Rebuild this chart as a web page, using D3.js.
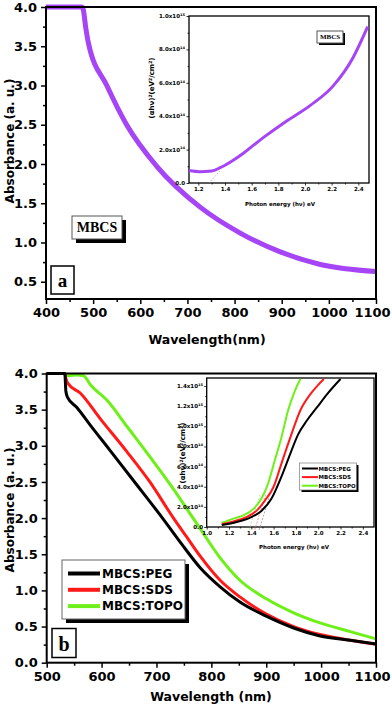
<!DOCTYPE html>
<html>
<head>
<meta charset="utf-8">
<script src="https://cdn.jsdelivr.net/npm/d3@7"></script>
<style>
body { margin: 0; background: #fff; }
svg text { font-family: "DejaVu Sans", sans-serif; font-weight: bold; }
</style>
</head>
<body>
<div id="chart"></div>
<script>
// ---- data : panel (a) MBCS ----
let wlA = [400, 476, 479, 484, 490, 529, 571, 635, 727, 812, 897, 982, 1100];
let absA = [4.0, 4.0, 3.97, 3.75, 3.54, 3.0, 2.5, 1.97, 1.45, 1.12, 0.88, 0.72, 0.63];
// inset (a) tauc plot, (ahv)^2 in units of 10^15
let evA = [1.13, 1.21, 1.30, 1.36, 1.45, 1.54, 1.62, 1.71, 1.86, 2.04, 2.21, 2.36, 2.47];
let tauA = [0.075, 0.068, 0.072, 0.09, 0.13, 0.18, 0.23, 0.285, 0.37, 0.465, 0.58, 0.75, 0.936];

// ---- data : panel (b) ----
let seriesNames = ["MBCS:PEG", "MBCS:SDS", "MBCS:TOPO"];
let seriesColors = ["#000000", "#ff1a1a", "#6cf018"];
let wlPEG = [500, 533, 535, 538, 555, 579, 615, 658, 713, 745, 780, 816, 852, 901, 950, 998, 1053, 1100];
let absPEG = [4.0, 4.0, 3.75, 3.67, 3.53, 3.29, 2.94, 2.52, 1.98, 1.65, 1.31, 1.05, 0.84, 0.64, 0.48, 0.37, 0.31, 0.26];
let wlSDS = [500, 533, 535, 539, 561, 597, 646, 688, 731, 755, 780, 816, 852, 901, 950, 998, 1053, 1100];
let absSDS = [4.0, 4.0, 3.93, 3.86, 3.73, 3.38, 2.92, 2.50, 2.00, 1.74, 1.47, 1.14, 0.91, 0.67, 0.50, 0.39, 0.31, 0.255];
let wlTOPO = [500, 530, 540, 555, 567, 580, 610, 647, 683, 731, 763, 780, 816, 852, 901, 950, 998, 1053, 1100];
let absTOPO = [4.0, 4.0, 3.97, 3.98, 3.97, 3.84, 3.63, 3.26, 2.90, 2.40, 2.04, 1.85, 1.45, 1.14, 0.88, 0.69, 0.55, 0.43, 0.33];
// inset (b), (ahv)^2 in units of 10^15
let evPEG = [1.135, 1.27, 1.39, 1.49, 1.58, 1.67, 1.75, 1.82, 1.90, 1.99, 2.08, 2.20];
let tauPEG = [0.02, 0.05, 0.093, 0.16, 0.28, 0.50, 0.73, 0.92, 1.06, 1.19, 1.32, 1.47];
let evSDS = [1.135, 1.24, 1.36, 1.45, 1.52, 1.60, 1.67, 1.75, 1.84, 1.93, 1.99, 2.05];
let tauSDS = [0.027, 0.056, 0.10, 0.165, 0.26, 0.40, 0.63, 0.89, 1.16, 1.32, 1.40, 1.47];
let evTOPO = [1.135, 1.24, 1.33, 1.42, 1.49, 1.55, 1.61, 1.67, 1.73, 1.79, 1.84];
let tauTOPO = [0.04, 0.083, 0.116, 0.18, 0.28, 0.43, 0.66, 0.89, 1.16, 1.35, 1.47];
let gapB = [1.47, 1.43, 1.38];   // tangent intercepts (eV)

// ---- tick labels ----
let xTicksA = [400, 500, 600, 700, 800, 900, 1000, 1100];
let yTicksA = [0.5, 1.0, 1.5, 2.0, 2.5, 3.0, 3.5, 4.0];
let xTicksB = [500, 600, 700, 800, 900, 1000, 1100];
let yTicksB = [0.0, 0.5, 1.0, 1.5, 2.0, 2.5, 3.0, 3.5, 4.0];
let evTicksA = [1.2, 1.4, 1.6, 1.8, 2.0, 2.2, 2.4];
let tauTicksA = [0, 0.2, 0.4, 0.6, 0.8, 1.0];
let evTicksB = [1.0, 1.2, 1.4, 1.6, 1.8, 2.0, 2.2, 2.4];
let tauTicksB = [0, 0.2, 0.4, 0.6, 0.8, 1.0, 1.2, 1.4];

let svg = d3.select("#chart")
  .append("svg")
  .attr("width", 392)
  .attr("height", 707);

// draws bottom+left axes with minor ticks, plus top/right frame
function drawFrame(x, y, xTicks, xMinor, yTicks, yMinor, o) {
  let g = svg.append("g");
  let x0 = x.range()[0], x1 = x.range()[1];
  let y0 = y.range()[0], y1 = y.range()[1];

  let xa = g.append("g").attr("transform", "translate(0," + y0 + ")")
    .call(d3.axisBottom(x).tickValues(xMinor).tickSize(o.minor).tickFormat("").tickSizeOuter(0));
  let xm = xa.append("g").call(d3.axisBottom(x).tickValues(xTicks).tickSize(o.major).tickPadding(o.pad)
    .tickFormat(o.fx).tickSizeOuter(0));
  let ya = g.append("g").attr("transform", "translate(" + x0 + ",0)")
    .call(d3.axisLeft(y).tickValues(yMinor).tickSize(o.minor).tickFormat("").tickSizeOuter(0));
  ya.append("g").call(d3.axisLeft(y).tickValues(yTicks).tickSize(o.major).tickPadding(o.pad)
    .tickFormat(o.fy || "").tickSizeOuter(0));

  g.selectAll(".domain").remove();
  g.selectAll(".tick line").attr("stroke", "#000").attr("stroke-width", o.tw);
  g.selectAll("text").attr("font-family", "DejaVu Sans").attr("font-weight", "bold")
    .attr("font-size", o.fs).attr("fill", "#000");
  if (o.lastDx) {
    xm.selectAll(".tick text").filter((d, i, n) => i === n.length - 1).attr("dx", o.lastDx);
  }

  g.append("rect")
    .attr("x", x0).attr("y", y1)
    .attr("width", x1 - x0).attr("height", y0 - y1)
    .attr("fill", "none").attr("stroke", "#000").attr("stroke-width", o.lw);
  return g;
}

function sciLabel(g, y, vals, xr) {
  vals.forEach(function (v) {
    let t = g.append("text")
      .attr("x", xr).attr("y", y(v) + 2)
      .attr("text-anchor", "end")
      .attr("font-size", "5.5px");
    if (v === 0) { t.text("0.0"); return; }
    let val = v * 1e15;
    let e = Math.floor(Math.log10(val) + 1e-9);
    let m = val / Math.pow(10, e);
    t.append("tspan").text(m.toFixed(1) + "x10");
    t.append("tspan").attr("dy", -2.2).attr("font-size", "3.6px").text(e);
  });
}

function tauTitle(g, cx, cy) {
  let t = g.append("text")
    .attr("transform", "translate(" + cx + "," + cy + ") rotate(-90)")
    .attr("text-anchor", "middle")
    .attr("font-size", "7px");
  t.append("tspan").text("(αhν)");
  t.append("tspan").attr("dy", -2.5).attr("font-size", "4.5px").text("2");
  t.append("tspan").attr("dy", 2.5).text("(eV");
  t.append("tspan").attr("dy", -2.5).attr("font-size", "4.5px").text("2");
  t.append("tspan").attr("dy", 2.5).text("/cm");
  t.append("tspan").attr("dy", -2.5).attr("font-size", "4.5px").text("2");
  t.append("tspan").attr("dy", 2.5).text(")");
}

function labelBox(x, y, w, h, txt, fs, sh) {
  svg.append("rect").attr("x", x + sh).attr("y", y + sh).attr("width", w).attr("height", h).attr("fill", "#000");
  svg.append("rect").attr("x", x).attr("y", y).attr("width", w).attr("height", h)
    .attr("fill", "#fff").attr("stroke", "#555").attr("stroke-width", 1);
  svg.append("text").attr("x", x + w / 2).attr("y", y + h / 2 + fs * 0.35)
    .attr("text-anchor", "middle")
    .style("font-family", "'Liberation Serif', serif")
    .attr("font-size", fs + "px").text(txt);
}

let mainOpts = {major: 5, minor: 3, pad: 4, tw: 1.5, lw: 2, fs: "13px", lastDx: -4,
  fx: d3.format("d"), fy: d3.format(".1f")};

// =========== panel (a) ===========
let xA = d3.scaleLinear().domain([400, 1100]).range([46, 376]);
let yA = d3.scaleLinear().domain([0.28, 4.0]).range([299, 7]);

svg.append("path")
  .datum(d3.zip(wlA, absA))
  .attr("fill", "none").attr("stroke", "#a545f5").attr("stroke-width", 5)
  .attr("d", d3.line().x(d => xA(d[0])).y(d => yA(d[1])).curve(d3.curveMonotoneX));

drawFrame(xA, yA, xTicksA, d3.range(450, 1100, 100), yTicksA, d3.range(0.75, 4.0, 0.5), mainOpts);

svg.append("text").attr("transform", "translate(13.5,141) rotate(-90)")
  .attr("text-anchor", "middle").attr("font-size", "12px").text("Absorbance (a. u.)");
svg.append("text").attr("x", 207).attr("y", 344)
  .attr("text-anchor", "middle").attr("font-size", "12.5px").text("Wavelength(nm)");

labelBox(72, 216, 50, 23, "MBCS", 14, 4);
svg.append("rect").attr("x", 51).attr("y", 266).attr("width", 23).attr("height", 28)
  .attr("fill", "#fff").attr("stroke", "#000").attr("stroke-width", 1.5);
svg.append("text").attr("x", 62.5).attr("y", 287).attr("text-anchor", "middle")
  .style("font-family", "'Liberation Serif', serif").attr("font-size", "19px").text("a");

// inset (a)
let exA = d3.scaleLinear().domain([1.13, 2.48]).range([189, 369]);
let eyA = d3.scaleLinear().domain([0, 1.0]).range([183, 16]);
svg.append("rect").attr("x", 189).attr("y", 16).attr("width", 180).attr("height", 167).attr("fill", "#fff");
let insA = drawFrame(exA, eyA, evTicksA, d3.range(1.3, 2.5, 0.2), tauTicksA, d3.range(0.1, 1.0, 0.2),
  {major: 2.5, minor: 1.5, pad: 2, tw: 0.8, lw: 1.3, fs: "5.5px", fx: d3.format(".1f"), fy: null});
sciLabel(insA, eyA, tauTicksA, 185);
tauTitle(insA, 154, 88);
insA.append("text").attr("x", 280).attr("y", 206).attr("text-anchor", "middle")
  .attr("font-size", "5.5px").text("Photon energy (hν) eV");
insA.append("line")
  .attr("x1", exA(1.28)).attr("y1", eyA(0)).attr("x2", exA(1.37)).attr("y2", eyA(0.08))
  .attr("stroke", "#888").attr("stroke-width", 0.8).attr("stroke-dasharray", "1,2");
insA.append("path")
  .datum(d3.zip(evA, tauA))
  .attr("fill", "none").attr("stroke", "#a545f5").attr("stroke-width", 3)
  .attr("d", d3.line().x(d => exA(d[0])).y(d => eyA(d[1])).curve(d3.curveMonotoneX));
labelBox(317, 31, 26, 12, "MBCS", 7, 2);

// =========== panel (b) ===========
let xB = d3.scaleLinear().domain([500, 1100]).range([46.7, 376]);
let yB = d3.scaleLinear().domain([0, 4.0]).range([662.7, 373.5]);

let bWl = [wlPEG, wlSDS, wlTOPO];
let bAbs = [absPEG, absSDS, absTOPO];
[2, 1, 0].forEach(function (i) {
  svg.append("path")
    .datum(d3.zip(bWl[i], bAbs[i]))
    .attr("fill", "none").attr("stroke", seriesColors[i]).attr("stroke-width", 3)
    .attr("d", d3.line().x(d => xB(d[0])).y(d => yB(d[1])).curve(d3.curveMonotoneX));
});

drawFrame(xB, yB, xTicksB, d3.range(550, 1100, 100), yTicksB, d3.range(0.25, 4.0, 0.5), mainOpts);

svg.append("text").attr("transform", "translate(13.5,510) rotate(-90)")
  .attr("text-anchor", "middle").attr("font-size", "12px").text("Absorbance (a. u.)");
svg.append("text").attr("x", 211).attr("y", 701)
  .attr("text-anchor", "middle").attr("font-size", "12.5px").text("Wavelength (nm)");

// legend (b)
svg.append("rect").attr("x", 66).attr("y", 564).attr("width", 123).attr("height", 59).attr("fill", "#000");
svg.append("rect").attr("x", 62).attr("y", 560).attr("width", 123).attr("height", 59)
  .attr("fill", "#fff").attr("stroke", "#666").attr("stroke-width", 1);
seriesNames.forEach(function (n, i) {
  let ly = 573.5 + i * 16.3;
  svg.append("line").attr("x1", 68).attr("x2", 100).attr("y1", ly).attr("y2", ly)
    .attr("stroke", seriesColors[i]).attr("stroke-width", 4);
  svg.append("text").attr("x", 102).attr("y", ly + 4.3).attr("font-size", "12px").text(n);
});

svg.append("rect").attr("x", 52).attr("y", 628.5).attr("width", 24).attr("height", 29)
  .attr("fill", "#fff").attr("stroke", "#000").attr("stroke-width", 1.5);
svg.append("text").attr("x", 64).attr("y", 651).attr("text-anchor", "middle")
  .style("font-family", "'Liberation Serif', serif").attr("font-size", "20px").text("b");

// inset (b)
let exB = d3.scaleLinear().domain([1.0, 2.5]).range([206.7, 374]);
let eyB = d3.scaleLinear().domain([0, 1.48]).range([527, 378]);
svg.append("rect").attr("x", 206.7).attr("y", 378).attr("width", 167.3).attr("height", 149).attr("fill", "#fff");
let insB = drawFrame(exB, eyB, evTicksB, d3.range(1.1, 2.5, 0.2), tauTicksB, d3.range(0.1, 1.48, 0.2),
  {major: 2.5, minor: 1.5, pad: 2, tw: 0.8, lw: 1.3, fs: "5.5px", fx: d3.format(".1f"), fy: null});
sciLabel(insB, eyB, tauTicksB, 203);
tauTitle(insB, 185, 453);
insB.append("text").attr("x", 294).attr("y", 549).attr("text-anchor", "middle")
  .attr("font-size", "5.5px").text("Photon energy (hν) eV");

let dashColors = ["#999999", "#f08080", "#9ef07a"];
gapB.forEach(function (eg, i) {
  insB.append("line")
    .attr("x1", exB(eg)).attr("y1", eyB(-0.03)).attr("x2", exB(eg + 0.1)).attr("y2", eyB(0.33))
    .attr("stroke", dashColors[i]).attr("stroke-width", 0.8).attr("stroke-dasharray", "2,1.5");
});
let bEv = [evPEG, evSDS, evTOPO];
let bTau = [tauPEG, tauSDS, tauTOPO];
[2, 1, 0].forEach(function (i) {
  insB.append("path")
    .datum(d3.zip(bEv[i], bTau[i]))
    .attr("fill", "none").attr("stroke", seriesColors[i]).attr("stroke-width", 2)
    .attr("d", d3.line().x(d => exB(d[0])).y(d => eyB(d[1])).curve(d3.curveMonotoneX));
});

// inset legend
insB.append("rect").attr("x", 301.5).attr("y", 465).attr("width", 57).attr("height", 27).attr("fill", "#000");
insB.append("rect").attr("x", 299.5).attr("y", 463).attr("width", 57).attr("height", 27)
  .attr("fill", "#fff").attr("stroke", "#666").attr("stroke-width", 0.6);
seriesNames.forEach(function (n, i) {
  let ly = 468.5 + i * 8.6;
  insB.append("line").attr("x1", 302).attr("x2", 318).attr("y1", ly).attr("y2", ly)
    .attr("stroke", seriesColors[i]).attr("stroke-width", 2);
  insB.append("text").attr("x", 318.5).attr("y", ly + 2).attr("font-size", "5.5px").text(n);
});
</script>
</body>
</html>
